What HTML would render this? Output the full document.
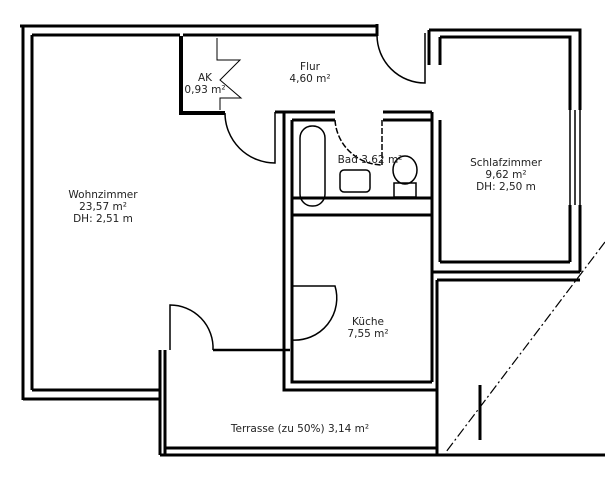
<!DOCTYPE html>
<html><head><meta charset="utf-8"><style>
body{margin:0;background:#fff}
svg{display:block}
text{font-family:"DejaVu Sans","Liberation Sans",sans-serif;font-size:10.5px;fill:#222;text-anchor:middle}
</style></head><body>
<svg width="605" height="482" viewBox="0 0 605 482" xmlns="http://www.w3.org/2000/svg">
<g fill="none" stroke="#000" stroke-width="3">
<!-- outer top wall -->
<path d="M20,26 H377"/><path d="M32,35 H180"/><path d="M183,35 H377"/>
<path d="M377,24 V36"/>
<!-- left wall -->
<path d="M23,27 V400"/><path d="M32,35 V390"/>
<!-- wohnzimmer bottom -->
<path d="M23,399 H160"/><path d="M32,390 H160"/>
<path d="M160,350 V455"/><path d="M165,350 V455"/>
<!-- AK -->
<path d="M181,36 V113 H225" stroke-width="4"/>
<!-- flur/bath top -->
<path d="M275,112 H335" stroke-width="3"/>
<path d="M383,112 H432"/>
<path d="M284,112 V372"/><path d="M292,120 V372"/>
<path d="M292,120 H335"/><path d="M383,120 H432"/>
<!-- bath bottom -->
<path d="M292,198 H432"/><path d="M292,215 H432"/>
<!-- schlafzimmer -->
<path d="M429,30 H580 V110"/><path d="M440,37 H570 V110"/>
<path d="M429,30 V65"/><path d="M440,37 V65"/>
<path d="M432,112 V270"/><path d="M440,120 V262"/>
<path d="M440,262 H570"/><path d="M432,272 H580"/>
<path d="M570,205 V262"/><path d="M580,205 V272"/>
<!-- kitchen -->
<path d="M284,372 V390 H437"/><path d="M292,372 V382 H432"/>
<path d="M432,215 V382"/><path d="M437,280 V455"/>
<path d="M437,280 H580"/>
<!-- terrace bottom -->
<path d="M160,455 H605"/><path d="M165,448 H437"/>
<!-- kitchen/door wall -->
<path d="M213,350 H290" stroke-width="2.5"/>
</g>
<g fill="none" stroke="#000" stroke-width="1.5">
<!-- window schlafzimmer -->
<path d="M570,110 V205 M575,110 V205 M580,110 V205"/>
<!-- AK zigzag -->
<path d="M217,38 V60 H240 L220,80 L241,98 H220 V110" stroke-width="1"/>
<!-- doors -->
<path d="M275,112 V163 A50,50 0 0 1 225,113"/>
<path d="M425,33 V83 A48,48 0 0 1 377,35"/>
<path d="M335,120 A48,48 0 0 0 382,165 M382,120 V165" stroke-dasharray="6,2"/>
<path d="M170,350 V305 A43,43 0 0 1 213,350"/>
<path d="M292,286 H335 A42,42 0 0 1 292,340"/>
<!-- bath fixtures -->
<rect x="300" y="126" width="25" height="80" rx="12"/>
<rect x="340" y="170" width="30" height="22" rx="4"/>
<ellipse cx="405" cy="170" rx="12" ry="14"/>
<rect x="394" y="183" width="22" height="14"/>
<!-- diagonal -->
<path d="M605,242 L446,452" stroke-dasharray="10,3,2,3" stroke-width="1.2"/>
<path d="M480,385 V440" stroke-width="3"/>
</g>
<text x="103" y="198">Wohnzimmer</text>
<text x="103" y="210">23,57 m²</text>
<text x="103" y="222">DH: 2,51 m</text>
<text x="205" y="81">AK</text>
<text x="205" y="93">0,93 m²</text>
<text x="310" y="70">Flur</text>
<text x="310" y="82">4,60 m²</text>
<text x="370" y="163">Bad 3,62 m²</text>
<text x="506" y="166">Schlafzimmer</text>
<text x="506" y="178">9,62 m²</text>
<text x="506" y="190">DH: 2,50 m</text>
<text x="368" y="325">Küche</text>
<text x="368" y="337">7,55 m²</text>
<text x="300" y="432">Terrasse (zu 50%) 3,14 m²</text>
</svg>
</body></html>
